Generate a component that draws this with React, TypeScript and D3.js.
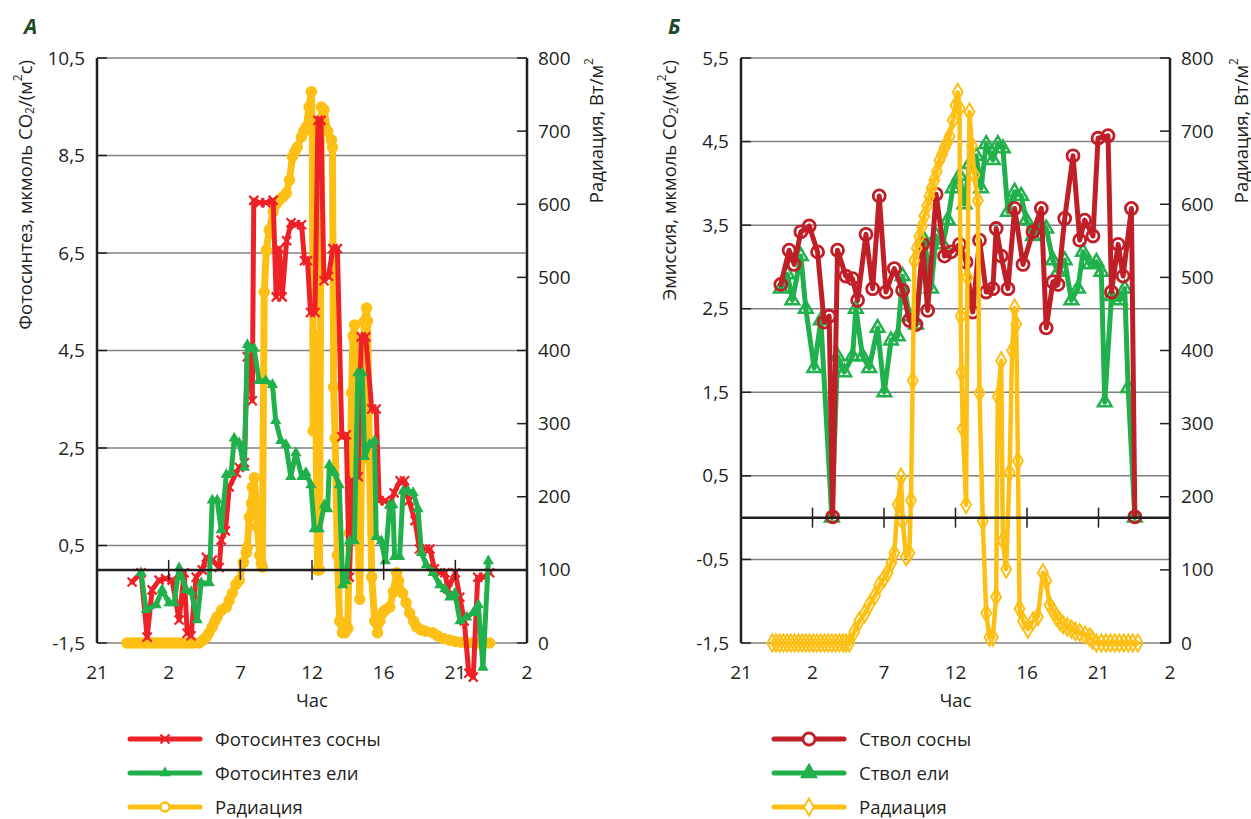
import * as d3 from "d3";

// x values are hours counted from 21:00 of the first day (25 = 01:00 next day)
const xTickValues = [21, 25.8, 30.6, 35.4, 40.2, 45, 49.8];
const xTickLabels = ["21", "2", "7", "12", "16", "21", "2"];

const leftTicksA = [-1.5, 0.5, 2.5, 4.5, 6.5, 8.5, 10.5];
const leftTicksB = [-1.5, -0.5, 0.5, 1.5, 2.5, 3.5, 4.5, 5.5];
const radTicks = [0, 100, 200, 300, 400, 500, 600, 700, 800];

// Panel A: photosynthesis
const pineA: [number, number][] = [
  [23.35, -0.25], [23.95, -0.06], [24.36, -1.38], [24.69, -0.41], [25.16, -0.21], [25.6, -0.18], [26.03, -0.21],
  [26.5, -1.03], [26.84, -0.06], [27.04, -1.3], [27.3, -1.35], [27.64, -0.15], [28.05, 0.0], [28.32, 0.26],
  [28.72, 0.2], [29.19, 0.05], [29.32, 0.61], [29.6, 0.8], [29.86, 1.7], [30.33, 1.99], [30.53, 2.1], [30.87, 2.2],
  [31.07, 4.37], [31.2, 4.37], [31.4, 3.47], [31.5, 7.58], [31.9, 7.53], [32.3, 7.53], [32.8, 7.58], [33.0, 5.6],
  [33.2, 6.59], [33.4, 5.6], [33.7, 6.75], [34.0, 7.12], [34.3, 7.08], [34.7, 7.08], [34.9, 6.34], [35.1, 6.34],
  [35.3, 5.28], [35.6, 5.28], [35.8, 9.22], [36.0, 9.22], [36.2, 5.93], [36.5, 6.02], [36.8, 6.59], [37.1, 6.59],
  [37.4, 2.73], [37.7, 2.77], [37.9, -0.15], [38.1, 1.83], [38.5, 1.91], [38.7, 4.78], [39.0, 4.78], [39.4, 3.3],
  [39.7, 3.3], [39.9, 1.42], [40.3, 1.42], [40.6, 1.35], [40.9, 1.58], [41.3, 1.83], [41.6, 1.83], [41.9, 1.42],
  [42.3, 1.01], [42.6, 0.43], [43.0, 0.43], [43.3, 0.43], [43.6, 0.02], [44.0, -0.06], [44.3, -0.06], [44.5, -0.39],
  [45.0, -0.06], [45.3, -0.56], [45.6, -1.05], [45.9, -2.12], [46.2, -2.2], [46.5, -0.15], [46.9, -0.15], [47.3, -0.06],
];

const spruceA: [number, number][] = [
  [23.95, -0.06], [24.29, -0.82], [24.96, -0.72], [25.36, -0.41], [25.83, -0.68], [26.17, -0.68], [26.5, 0.04],
  [26.97, -0.41], [27.31, -0.45], [27.71, -1.03], [27.98, -0.27], [28.52, -0.27], [28.72, 1.43], [29.05, 1.43],
  [29.32, 0.82], [29.66, 1.95], [29.99, 2.0], [30.19, 2.7], [30.53, 2.6], [30.87, 2.1], [31.07, 4.62], [31.52, 4.54],
  [31.85, 3.88], [32.3, 3.88], [32.75, 3.8], [32.97, 3.06], [33.31, 2.65], [33.65, 2.57], [33.98, 1.91], [34.32, 2.4],
  [34.72, 1.91], [34.99, 1.99], [35.33, 1.74], [35.55, 0.84], [35.89, 0.84], [36.23, 1.33], [36.45, 1.25],
  [36.56, 2.15], [36.9, 1.99], [37.23, 1.74], [37.46, -0.31], [37.68, -0.23], [37.91, 0.59], [38.24, 0.59],
  [38.47, 4.04], [38.76, 4.04], [38.92, 2.32], [39.25, 2.57], [39.59, 2.65], [39.7, 0.68], [40.04, 0.59],
  [40.31, 0.18], [40.6, 1.33], [40.82, 1.33], [40.93, 0.27], [41.27, 0.27], [41.5, 1.62], [41.83, 1.62],
  [42.17, 1.58], [42.5, 1.25], [42.73, 0.35], [43.06, 0.1], [43.51, -0.06], [43.96, -0.31], [44.3, -0.39],
  [44.63, -0.56], [44.97, -0.48], [45.31, -1.05], [45.76, -0.97], [46.2, -0.88], [46.54, -0.72], [46.85, -2.0],
  [47.21, 0.18],
];

const radA: [number, number][] = [
  [23.0, 0], [23.25, 0], [23.5, 0], [23.75, 0], [24.0, 0], [24.25, 0], [24.5, 0], [24.75, 0], [25.0, 0], [25.25, 0],
  [25.5, 0], [25.75, 0], [26.0, 0], [26.25, 0], [26.5, 0], [26.75, 0], [27.0, 0], [27.25, 0], [27.5, 0], [27.85, 0],
  [28.1, 4], [28.32, 8], [28.5, 14], [28.72, 22], [28.9, 30], [29.05, 36], [29.35, 45], [29.66, 49], [29.85, 58],
  [30.06, 68], [30.3, 80], [30.53, 86], [30.8, 110], [31.0, 123], [31.07, 131], [31.2, 172], [31.34, 191], [31.4, 213],
  [31.54, 226], [31.74, 159], [31.9, 120], [32.0, 109], [32.07, 104], [32.2, 480], [32.34, 537], [32.54, 565],
  [32.8, 590], [33.0, 600], [33.21, 606], [33.45, 610], [33.68, 615], [33.89, 633], [34.09, 665], [34.25, 672],
  [34.42, 678], [34.69, 692], [34.85, 700], [35.03, 706], [35.2, 733], [35.36, 754], [35.42, 700], [35.48, 290],
  [35.6, 420], [35.77, 100], [35.9, 100], [36.03, 733], [36.2, 729], [36.45, 700], [36.7, 688], [36.77, 678],
  [36.85, 350], [36.95, 280], [37.1, 120], [37.25, 30], [37.44, 14], [37.6, 14], [37.8, 20], [37.9, 150],
  [38.05, 342], [38.15, 420], [38.25, 435], [38.4, 300], [38.5, 150], [38.6, 60], [38.75, 300], [38.9, 440],
  [39.05, 458], [39.12, 440], [39.25, 250], [39.4, 90], [39.6, 30], [39.79, 14], [39.95, 30], [40.13, 41],
  [40.3, 45], [40.6, 49], [40.85, 70], [41.07, 96], [41.2, 85], [41.47, 68], [41.7, 55], [41.94, 41], [42.2, 30],
  [42.41, 22], [42.7, 18], [43.0, 16], [43.48, 14], [43.8, 10], [44.2, 6], [44.62, 4], [45.0, 2], [45.4, 1],
  [45.77, 0], [46.2, 0], [46.6, 0], [47.0, 0], [47.3, 0],
];

// Panel Б: stem emission
const pineB: [number, number][] = [
  [23.67, 2.79], [24.23, 3.2], [24.57, 3.03], [25.02, 3.42], [25.58, 3.49], [26.14, 3.18], [26.58, 2.34],
  [26.92, 2.41], [27.15, 0.01], [27.48, 3.2], [28.04, 2.89], [28.49, 2.86], [28.83, 2.6], [29.39, 3.39],
  [29.84, 2.74], [30.28, 3.85], [30.73, 2.7], [31.29, 2.98], [31.85, 2.72], [32.3, 2.36], [32.75, 2.31],
  [33.2, 3.27], [33.53, 2.48], [34.1, 3.87], [34.66, 3.13], [35.1, 3.18], [35.67, 3.27], [36.11, 3.06],
  [36.56, 2.46], [37.01, 3.32], [37.46, 2.7], [37.91, 2.74], [38.13, 3.46], [38.47, 3.13], [38.92, 2.74],
  [39.37, 3.7], [39.93, 3.03], [40.6, 3.42], [41.16, 3.7], [41.49, 2.27], [41.94, 2.82], [42.28, 2.79],
  [42.73, 3.58], [43.29, 4.33], [43.74, 3.32], [44.07, 3.56], [44.63, 3.37], [44.97, 4.54], [45.64, 4.57],
  [45.87, 2.7], [46.32, 3.27], [46.65, 2.89], [47.21, 3.7], [47.44, 0.01],
];

const spruceB: [number, number][] = [
  [23.67, 2.74], [24.12, 2.91], [24.45, 2.6], [25.02, 3.13], [25.35, 2.5], [25.91, 1.79], [26.36, 2.36],
  [27.1, 0.0], [27.48, 1.93], [27.93, 1.74], [28.49, 1.93], [28.71, 2.5], [29.16, 1.93], [29.61, 1.79],
  [30.17, 2.27], [30.62, 1.5], [31.07, 2.12], [31.52, 2.17], [31.85, 2.89], [32.3, 2.41], [32.75, 2.31],
  [33.31, 3.32], [33.76, 2.74], [34.1, 3.37], [34.54, 3.27], [34.88, 3.56], [35.22, 3.94], [35.67, 4.09],
  [36.0, 3.75], [36.34, 4.23], [36.79, 4.33], [37.12, 3.94], [37.46, 4.47], [37.91, 4.28], [38.24, 4.47],
  [38.58, 4.42], [38.92, 3.66], [39.37, 3.9], [39.81, 3.85], [40.15, 3.56], [40.6, 3.37], [41.05, 3.51],
  [41.49, 3.46], [41.94, 3.08], [42.28, 2.94], [42.73, 3.08], [43.18, 2.6], [43.62, 2.74], [43.96, 3.18],
  [44.41, 3.03], [44.86, 3.06], [45.19, 2.94], [45.42, 1.38], [45.87, 2.65], [46.43, 2.6], [46.76, 2.74],
  [46.99, 1.55], [47.44, 0.0],
];

const radB: [number, number][] = [
  [23.1, 0], [23.35, 0], [23.6, 0], [23.85, 0], [24.1, 0], [24.35, 0], [24.6, 0], [24.85, 0], [25.1, 0], [25.35, 0],
  [25.6, 0], [25.85, 0], [26.1, 0], [26.35, 0], [26.6, 0], [26.85, 0], [27.1, 0], [27.35, 0], [27.6, 0], [27.85, 0],
  [28.05, 0], [28.27, 0], [28.6, 15], [28.94, 30], [29.3, 40], [29.61, 52], [30.0, 65], [30.28, 79], [30.6, 88],
  [30.84, 96], [31.1, 110], [31.29, 123], [31.52, 189], [31.74, 227], [31.85, 167], [32.08, 118], [32.3, 123],
  [32.41, 195], [32.53, 359], [32.64, 523], [32.8, 540], [32.97, 556], [33.15, 570], [33.31, 584], [33.5, 598],
  [33.65, 611], [33.8, 622], [33.98, 633], [34.15, 645], [34.32, 660], [34.5, 668], [34.66, 677], [34.85, 685],
  [35.0, 693], [35.22, 715], [35.4, 735], [35.55, 753], [35.67, 731], [35.75, 447], [35.8, 370], [35.89, 293],
  [36.11, 189], [36.2, 500], [36.34, 726], [36.5, 680], [36.67, 640], [36.9, 605], [37.01, 342], [37.23, 167],
  [37.46, 41], [37.68, 8], [37.91, 8], [38.13, 63], [38.24, 337], [38.47, 386], [38.58, 140], [38.8, 101],
  [39.03, 233], [39.2, 400], [39.37, 458], [39.48, 436], [39.59, 249], [39.7, 47], [39.93, 30], [40.26, 19],
  [40.6, 30], [40.93, 36], [41.27, 96], [41.49, 85], [41.72, 52], [41.95, 44], [42.17, 36], [42.4, 30], [42.62, 25],
  [42.9, 22], [43.18, 19], [43.45, 16], [43.74, 14], [44.1, 11], [44.41, 8], [44.6, 4], [44.86, 0], [45.2, 0],
  [45.5, 0], [45.8, 0], [46.1, 0], [46.4, 0], [46.7, 0], [47.0, 0], [47.3, 0], [47.64, 0],
];

const RED = "#ee2127";
const DARKRED = "#c01f27";
const GREEN = "#20b14c";
const YELLOW = "#fdbf14";
const FONT = "'Open Sans', 'Noto Sans', sans-serif";
const TXT = "#231f20";

const fmt = (v: number) => d3.format(".1f")(v).replace(".", ",").replace("−", "-");

const Marker = ({ type, color, cx, cy, legend }: any) => {
  const fill = legend ? "#fff" : "none";
  if (type === "x") {
    return <path d={`M${cx - 4.5},${cy - 4.5}L${cx + 4.5},${cy + 4.5}M${cx - 4.5},${cy + 4.5}L${cx + 4.5},${cy - 4.5}`} stroke={color} strokeWidth={2.2} />;
  }
  if (type === "tri") {
    return <path transform={`translate(${cx},${cy})`} d={d3.symbol(d3.symbolTriangle, 55)() as string} fill={color} />;
  }
  if (type === "triO") {
    return <path transform={`translate(${cx},${cy})`} d={d3.symbol(d3.symbolTriangle, 80)() as string} fill={legend ? color : "none"} stroke={color} strokeWidth={2.5} />;
  }
  if (type === "circle") {
    return <circle cx={cx} cy={cy} r={4.5} fill={fill} stroke={color} strokeWidth={2.5} />;
  }
  if (type === "circleB") {
    return <circle cx={cx} cy={cy} r={6} fill={fill} stroke={color} strokeWidth={2.8} />;
  }
  return <path transform={`translate(${cx},${cy})`} d={d3.symbol(d3.symbolDiamond, 85)() as string} fill={fill} stroke={color} strokeWidth={2} />;
};

const Panel = ({ cfg }: any) => {
  const { l, r, t, b } = cfg;
  const x = d3.scaleLinear().domain([21, 49.8]).range([l, r]);
  const yL = d3.scaleLinear().domain(cfg.leftDomain).range([b, t]);
  const yR = d3.scaleLinear().domain([0, 800]).range([b, t]);
  const y0 = yL(0);

  return (
    <g fontFamily={FONT} fill={TXT}>
      <text x={cfg.letterX} y={34} fontSize={21} fontWeight="bold" fontStyle="italic" fill="#1d4a28">{cfg.letter}</text>

      {cfg.leftTicks.map((v: number) => (
        <line key={"g" + v} x1={l} x2={r} y1={yL(v)} y2={yL(v)} stroke="#808080" strokeWidth={1.5} />
      ))}
      {cfg.leftTicks.map((v: number) => (
        <line key={"lt" + v} x1={l} x2={l + 10} y1={yL(v)} y2={yL(v)} stroke="#231f20" strokeWidth={1.5} />
      ))}
      {radTicks.map((v) => (
        <line key={"rt" + v} x1={r - 10} x2={r} y1={yR(v)} y2={yR(v)} stroke="#231f20" strokeWidth={1.5} />
      ))}

      {cfg.series.map((s: any, i: number) => {
        const ys = s.axis === "R" ? yR : yL;
        const line = d3.line<[number, number]>().x((d) => x(d[0])).y((d) => ys(d[1]));
        return (
          <g key={"s" + i}>
            <path d={line(s.data) as string} fill="none" stroke={s.color} strokeWidth={s.width} strokeLinejoin="round" strokeLinecap="round" />
            {s.data.map((d: [number, number], j: number) => (
              <Marker key={j} type={s.marker} color={s.color} cx={x(d[0])} cy={ys(d[1])} />
            ))}
          </g>
        );
      })}

      <line x1={l} x2={r} y1={y0} y2={y0} stroke="#231f20" strokeWidth={2.5} />
      {xTickValues.slice(1, -1).map((v) => (
        <line key={"xt" + v} x1={x(v)} x2={x(v)} y1={y0 - 10} y2={y0 + 10} stroke="#231f20" strokeWidth={1.5} />
      ))}
      <line x1={l} x2={l} y1={t} y2={b} stroke="#231f20" strokeWidth={2.5} />
      <line x1={r} x2={r} y1={t} y2={b} stroke="#231f20" strokeWidth={2.5} />

      {cfg.leftTicks.map((v: number) => (
        <text key={"ll" + v} x={l - 12} y={yL(v) + 6.5} fontSize={19} textAnchor="end">{fmt(v)}</text>
      ))}
      {radTicks.map((v) => (
        <text key={"rl" + v} x={r + 11} y={yR(v) + 6.5} fontSize={19}>{v}</text>
      ))}
      {xTickValues.map((v, i) => (
        <text key={"xl" + i} x={x(v)} y={b + 36} fontSize={19} textAnchor="middle">{xTickLabels[i]}</text>
      ))}
      <text x={(l + r) / 2} y={b + 64} fontSize={18.5} textAnchor="middle">Час</text>

      <text transform={`translate(${cfg.leftTitleX},${t + 2}) rotate(-90)`} fontSize={18.5} textAnchor="end" dominantBaseline="central">
        {cfg.leftTitle}, мкмоль CO<tspan fontSize={12} dy={5}>2</tspan>
        <tspan dy={-5}>/(м</tspan><tspan fontSize={12} dy={-7}>2</tspan><tspan dy={7}>с)</tspan>
      </text>
      <text transform={`translate(${cfg.rightTitleX},${t}) rotate(-90)`} fontSize={18.5} textAnchor="end" dominantBaseline="central">
        Радиация, Вт/м<tspan fontSize={12} dy={-7}>2</tspan>
      </text>

      {cfg.legend.map((s: any, i: number) => {
        const ly = 739 + i * 34;
        return (
          <g key={"lg" + i}>
            <line x1={cfg.legendX} x2={cfg.legendX + 70} y1={ly} y2={ly} stroke={s.color} strokeWidth={5} strokeLinecap="round" />
            <Marker type={s.marker} color={s.color} cx={cfg.legendX + 35} cy={ly} legend />
            <text x={cfg.legendX + 85} y={ly + 7} fontSize={18.5}>{s.label}</text>
          </g>
        );
      })}
    </g>
  );
};

const panelA = {
  letter: "А", letterX: 24, l: 97, r: 527, t: 58, b: 643,
  leftDomain: [-1.5, 10.5], leftTicks: leftTicksA,
  leftTitle: "Фотосинтез", leftTitleX: 24, rightTitleX: 595,
  series: [
    { data: radA, axis: "R", color: YELLOW, width: 7, marker: "circle" },
    { data: pineA, axis: "L", color: RED, width: 5, marker: "x" },
    { data: spruceA, axis: "L", color: GREEN, width: 5, marker: "tri" },
  ],
  legendX: 130,
  legend: [
    { label: "Фотосинтез сосны", color: RED, marker: "x" },
    { label: "Фотосинтез ели", color: GREEN, marker: "tri" },
    { label: "Радиация", color: YELLOW, marker: "circle" },
  ],
};

const panelB = {
  letter: "Б", letterX: 668, l: 741, r: 1170, t: 58, b: 643,
  leftDomain: [-1.5, 5.5], leftTicks: leftTicksB,
  leftTitle: "Эмиссия", leftTitleX: 668, rightTitleX: 1240,
  series: [
    { data: spruceB, axis: "L", color: GREEN, width: 5, marker: "triO" },
    { data: pineB, axis: "L", color: DARKRED, width: 5, marker: "circleB" },
    { data: radB, axis: "R", color: YELLOW, width: 4.5, marker: "diamond" },
  ],
  legendX: 774,
  legend: [
    { label: "Ствол сосны", color: DARKRED, marker: "circleB" },
    { label: "Ствол ели", color: GREEN, marker: "triO" },
    { label: "Радиация", color: YELLOW, marker: "diamond" },
  ],
};

export default function App() {
  return (
    <svg width={1251} height={819} style={{ position: "absolute", left: 0, top: 0, background: "#fff" }}>
      <rect width={1251} height={819} fill="#fff" />
      <Panel cfg={panelA} />
      <Panel cfg={panelB} />
    </svg>
  );
}
